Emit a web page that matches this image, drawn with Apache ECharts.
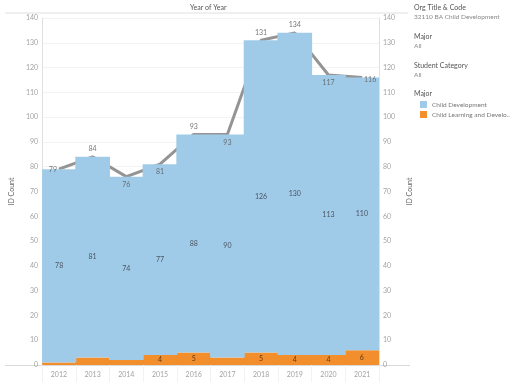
<!DOCTYPE html>
<html>
<head>
<meta charset="utf-8">
<script src="https://cdn.jsdelivr.net/npm/echarts@6/dist/echarts.min.js"></script>
<style>html,body{margin:0;padding:0;background:#fff}#c{width:512px;height:384px}</style>
</head>
<body>
<div id="c"></div>
<script>
var years = ['2012','2013','2014','2015','2016','2017','2018','2019','2020','2021'];
var childDevelopment = [78, 81, 74, 77, 88, 90, 126, 130, 113, 110];
var childLearning = [1, 3, 2, 4, 5, 3, 5, 4, 4, 6];
var totals = [79, 84, 76, 81, 93, 93, 131, 134, 117, 116];
var yTicks = {min: 0, max: 140, interval: 10};

// label placement styles for the total labels (style, not data)
var totalLabelPos = ['inside','top','bottom','bottom','top','bottom','top','top','bottom','inside'];

var FONT = 'Lato';
var BLUE = '#a0cbe8', ORANGE = '#f28e2b';
var chart = echarts.init(document.getElementById('c'), null, {renderer: 'canvas'});

var totalData = totals.map(function (v, i) {
  var item = {value: v, label: {position: totalLabelPos[i]}};
  if (i === 0) item.label.offset = [-6, 1];
  if (i === totals.length - 1) item.label.offset = [8, 2];
  return item;
});

var option = {
  animation: false,
  textStyle: {fontFamily: FONT},
  grid: {left: 37, right: 133, top: 18, bottom: 19},
  xAxis: {
    type: 'category',
    data: years,
    boundaryGap: true,
    axisLine: {show: true, lineStyle: {color: '#d9d9d9', width: 1}},
    axisTick: {show: true, inside: false, length: 17, lineStyle: {color: '#f2f2f2'}},
    splitLine: {show: false},
    splitArea: {show: false},
    axisLabel: {color: '#a3a3a3', fontSize: 7, margin: 6, fontFamily: FONT}
  },
  yAxis: [{
    type: 'value', min: yTicks.min, max: yTicks.max, interval: yTicks.interval,
    position: 'left',
    name: 'ID Count', nameLocation: 'middle', nameGap: 18, nameRotate: 90,
    nameTextStyle: {color: '#666', fontSize: 7, fontFamily: FONT},
    axisLine: {show: true, lineStyle: {color: '#e0e0e0'}},
    axisTick: {show: false},
    axisLabel: {color: '#a3a3a3', fontSize: 7, margin: 4, fontFamily: FONT},
    splitLine: {show: true, lineStyle: {color: '#f3f3f3'}}
  }, {
    type: 'value', min: yTicks.min, max: yTicks.max, interval: yTicks.interval,
    position: 'right',
    name: 'ID Count', nameLocation: 'middle', nameGap: 16, nameRotate: 90,
    nameTextStyle: {color: '#666', fontSize: 7, fontFamily: FONT},
    axisLine: {show: true, lineStyle: {color: '#e0e0e0'}},
    axisTick: {show: false},
    axisLabel: {color: '#a3a3a3', fontSize: 7, margin: 4, fontFamily: FONT},
    splitLine: {show: false}
  }],
  legend: {
    orient: 'vertical', left: 415, top: 96,
    data: ['Child Development', 'Child Learning and Development'],
    icon: 'rect', itemWidth: 7, itemHeight: 7, itemGap: 3,
    textStyle: {color: '#777', fontSize: 6.5, fontFamily: FONT, width: 82, overflow: 'truncate', ellipsis: '..'},
    selectedMode: false
  },
  series: [{
    name: 'Total', type: 'line', data: totals, z: 1,
    symbol: 'none', lineStyle: {color: '#949494', width: 3}, itemStyle: {color: '#949494'}
  }, {
    name: 'Child Learning and Development', type: 'bar', stack: 's', data: childLearning, z: 2,
    barWidth: '103%', barGap: '-100%', itemStyle: {color: ORANGE, borderWidth: 0},
    label: {show: true, position: 'inside', color: '#5e3a14', fontSize: 7, fontFamily: FONT,
      formatter: function (p) { return p.value >= 4 ? p.value : ''; }}
  }, {
    name: 'Child Development', type: 'bar', stack: 's', data: childDevelopment, z: 2,
    barWidth: '103%', barGap: '-100%', itemStyle: {color: BLUE, borderWidth: 0},
    label: {show: true, position: 'inside', color: '#4a5563', fontSize: 7, fontFamily: FONT}
  }, {
    name: 'TotalLabels', type: 'scatter', data: totalData, z: 5,
    symbolSize: 1, itemStyle: {color: 'rgba(0,0,0,0)'},
    label: {show: true, color: '#555', fontSize: 7, distance: 4, fontFamily: FONT}
  }],
  graphic: [
    {type: 'line', shape: {x1: 5, y1: 13, x2: 408, y2: 13}, style: {stroke: '#e0e0e0', lineWidth: 1}},
    {type: 'line', shape: {x1: 5, y1: 365.5, x2: 410, y2: 365.5}, style: {stroke: '#d9d9d9', lineWidth: 1}},
    {type: 'text', left: 190, top: 4, style: {text: 'Year of Year', fill: '#555', fontSize: 7, fontFamily: FONT}},
    {type: 'text', left: 414, top: 4.5, style: {text: 'Org Title & Code', fill: '#555', fontSize: 7, fontFamily: FONT}},
    {type: 'text', left: 414, top: 13.5, style: {text: '32110 BA Child Development', fill: '#888', fontSize: 6.5, fontFamily: FONT}},
    {type: 'text', left: 414, top: 33, style: {text: 'Major', fill: '#555', fontSize: 7, fontFamily: FONT}},
    {type: 'text', left: 414, top: 42, style: {text: 'All', fill: '#888', fontSize: 6.5, fontFamily: FONT}},
    {type: 'text', left: 414, top: 62, style: {text: 'Student Category', fill: '#555', fontSize: 7, fontFamily: FONT}},
    {type: 'text', left: 414, top: 71, style: {text: 'All', fill: '#888', fontSize: 6.5, fontFamily: FONT}},
    {type: 'text', left: 414, top: 90.5, style: {text: 'Major', fill: '#555', fontSize: 7, fontFamily: FONT}}
  ]
};
chart.setOption(option);
</script>
</body>
</html>
